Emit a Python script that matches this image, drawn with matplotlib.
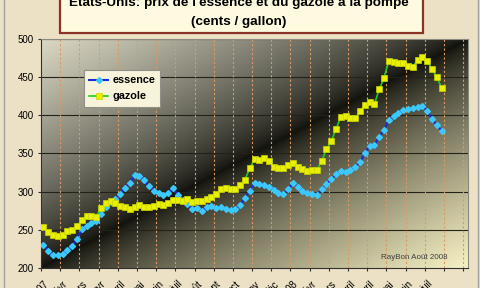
import numpy as np
import matplotlib.pyplot as plt
from matplotlib.patches import Rectangle

plt.rcParams['font.family'] = ['Liberation Sans', 'DejaVu Sans']

# weekly pump prices (cents / gallon), one value per week from 8 Jan 2007
essence = [230.1, 222.3, 217.0, 216.6, 218.3, 223.6, 229.3, 238.0, 250.7, 255.0,
           258.5, 261.1, 270.7, 279.5, 286.0, 291.0, 296.9, 304.8, 311.8, 321.4,
           320.5, 315.3, 307.4, 300.9, 298.7, 295.6, 298.7, 304.4, 296.1, 289.1,
           283.4, 277.3, 278.2, 274.7, 279.5, 281.2, 279.0, 279.5, 276.9, 276.0,
           276.9, 282.5, 291.3, 301.3, 310.9, 310.0, 308.7, 305.7, 302.2, 298.7,
           296.9, 303.9, 310.9, 305.7, 301.3, 297.8, 296.9, 295.6, 303.3, 309.6,
           316.4, 322.7, 327.5, 325.3, 328.4, 332.8, 338.4, 350.2, 360.3, 361.1,
           372.1, 380.8, 393.9, 399.1, 403.1, 407.0, 408.3, 409.2, 411.4, 411.8,
           406.1, 395.2, 387.3, 379.5]
gazole = [254.2, 246.7, 243.2, 241.9, 243.2, 248.5, 249.8, 255.0, 262.9, 268.6,
          268.1, 267.3, 279.0, 285.6, 288.2, 285.6, 281.2, 279.5, 277.7, 280.3,
          282.1, 279.5, 279.5, 281.2, 283.4, 282.5, 285.6, 289.1, 289.1, 288.2,
          290.6, 286.0, 287.8, 288.2, 290.4, 293.5, 296.9, 303.1, 305.2, 303.5,
          303.9, 308.7, 315.3, 330.6, 342.4, 341.5, 343.7, 340.6, 331.9, 330.6,
          330.6, 334.9, 338.0, 332.8, 329.3, 327.1, 328.4, 328.4, 340.2, 355.5,
          366.0, 382.0, 398.3, 399.6, 396.9, 396.1, 405.7, 413.5, 417.9, 414.9,
          434.1, 449.4, 471.6, 470.3, 469.0, 469.0, 464.6, 463.8, 472.5, 476.0,
          471.2, 460.3, 449.8, 436.3]
n_weeks = 89   # the category axis has room for 89 weeks
month_labels = ['janv-07', 'févr', 'mars', 'avr', 'avril', 'mai', 'juin', 'juil',
                'août', 'sept', 'oct', 'nov', 'déc', 'janv-08', 'févr', 'mars',
                'avril', 'avril', 'mai', 'juin', 'juil']

W, H = 480, 288
fig = plt.figure(figsize=(4.8, 2.88), dpi=100)
fig.patch.set_facecolor('#ede1c5')

# plot area in pixels: x 41..468, y 39..268
pos = [41 / W, 1 - 268 / H, 427 / W, 229 / H]

# gradient background of the plot area (dark diagonal)
bg = fig.add_axes(pos, zorder=0)
gu = np.linspace(0, 1, 430)[None, :]
gv = np.linspace(1, 0, 230)[:, None]
d = gv - gu
dark = np.array([0.07, 0.07, 0.05])
light_up = np.array([0.86, 0.85, 0.77])
light_dn = np.array([0.97, 0.95, 0.77])
t = np.clip(np.abs(d), 0, 1) ** 0.75
light = np.where(d[..., None] > 0, light_up, light_dn)
img = dark + (light - dark) * t[..., None]
bg.imshow(img, extent=(0, 1, 0, 1), aspect='auto', interpolation='bilinear')
bg.set_axis_off()

ax = fig.add_axes(pos, zorder=1)
ax.patch.set_alpha(0)

x = np.arange(len(essence))
ax.plot(x, essence, color='#1a2ad8', lw=1.5, marker='D', ms=3.0,
        mfc='#3cc8ff', mec='#3cc8ff', label='essence', zorder=4)
ax.plot(x, gazole, color='#22cc22', lw=1.2, marker='s', ms=3.8,
        mfc='#e8f000', mec='#c8d400', mew=0.5, label='gazole', zorder=5)

ax.set_xlim(-0.5, n_weeks - 0.5)
ax.set_ylim(200, 500)

yt = np.arange(200, 501, 50)
ax.set_yticks(yt)
for yv in yt[1:]:
    ax.axhline(yv, color='#222218', lw=0.8, zorder=1)

bounds = np.arange(-0.5, n_weeks, 4)
ax.set_xticks(bounds)
ax.set_xticklabels([])
for xv in bounds[1:]:
    ax.axvline(xv, color='#dc9a62', lw=0.8, ls=(0, (2, 2)), zorder=1)
ax.set_xticks(np.arange(len(month_labels)) * 4, minor=True)
ax.set_xticklabels(month_labels, minor=True, rotation=45, ha='right', va='top',
                   rotation_mode='anchor', fontsize=7)
ax.tick_params(axis='x', which='minor', length=0, pad=8)
ax.tick_params(axis='x', which='major', length=2.2, width=0.8, color='#303030')
ax.tick_params(axis='y', length=2.2, width=0.8, color='#303030', pad=3,
               labelsize=7)

for s in ['left', 'bottom']:
    ax.spines[s].set_color('#303030')
    ax.spines[s].set_linewidth(0.8)
for s in ['top', 'right']:
    ax.spines[s].set_color('#8a8a80')
    ax.spines[s].set_linewidth(0.8)

leg = ax.legend(loc='upper left', bbox_to_anchor=(0.1007, 0.8646), borderaxespad=0,
                fancybox=False, framealpha=1, facecolor='#f8f4dc', edgecolor='#909088',
                prop={'weight': 'bold', 'size': 7.8}, handlelength=1.7,
                handletextpad=0.4, labelspacing=0.55, borderpad=0.5)
leg.get_frame().set_linewidth(0.8)

ax.text(0.796, 0.044, 'RayBon Août 2008', transform=ax.transAxes,
        fontsize=5.8, color='#404040', ha='left', va='center')

# title box
fig.patches.append(Rectangle((60 / W, 1 - 33 / H), 363 / W, 0.2,
                             transform=fig.transFigure, facecolor='#fdfae0',
                             edgecolor='#8b3326', lw=1.6, zorder=2))
fig.text(239 / W, 1 - 3 / H, "Etats-Unis: prix de l'essence et du gazole à la pompe",
         ha='center', va='center', fontsize=9.7, fontweight='bold', zorder=3)
fig.text(239 / W, 1 - 21.5 / H, '(cents / gallon)',
         ha='center', va='center', fontsize=9.7, fontweight='bold', zorder=3)

# outer frame
fig.patches.append(Rectangle((3.5 / W, -0.1), 474 / W, 1.3, transform=fig.transFigure,
                             fill=False, edgecolor='#a0a0a0', lw=1, zorder=1))

fig.savefig('out.png', dpi=100, facecolor=fig.get_facecolor())
